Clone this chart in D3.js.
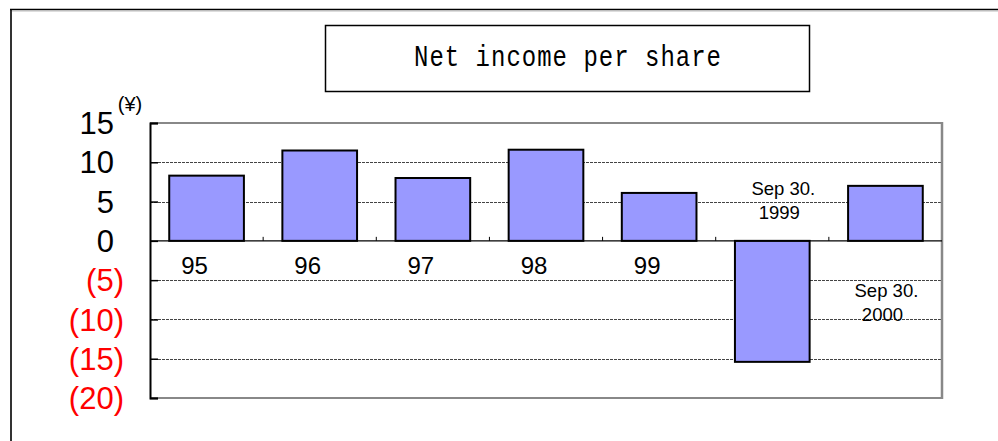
<!DOCTYPE html>
<html>
<head>
<meta charset="utf-8">
<script src="https://cdn.jsdelivr.net/npm/d3@7"></script>
<style>
  body { margin: 0; background: #fff; }
  svg { display: block; }
</style>
</head>
<body>
<div class="viz"></div>
<script>
'use strict';

// data
var categories = ['95', '96', '97', '98', '99', 'sep99', 'sep00'];
var values = [8.3, 11.5, 8.0, 11.6, 6.1, -15.4, 7.0];
var catLabels = ['95', '96', '97', '98', '99'];
var yTicks = [15, 10, 5, 0, -5, -10, -15, -20];
var title = 'Net income per share';

var width = 998, height = 441;
var plot = {left: 150, top: 123, right: 942, bottom: 398};

var svg = d3.select('.viz').append('svg')
  .attr('width', width)
  .attr('height', height);

// outer frame
svg.append('line').attr('x1', 11).attr('y1', 10).attr('x2', 11).attr('y2', height)
  .attr('stroke', '#333').attr('stroke-width', 2);
svg.append('line').attr('x1', 10).attr('y1', 9.5).attr('x2', width).attr('y2', 9.5)
  .attr('stroke', '#000').attr('stroke-width', 1.5);
svg.append('line').attr('x1', 12).attr('y1', 11).attr('x2', width).attr('y2', 11)
  .attr('stroke', '#bbb').attr('stroke-width', 1);

// title box
svg.append('rect').attr('x', 325.5).attr('y', 25.5).attr('width', 484).attr('height', 66)
  .attr('fill', '#fff').attr('stroke', '#000').attr('stroke-width', 1.5);
svg.append('text')
  .attr('x', 568).attr('y', 58)
  .attr('text-anchor', 'middle')
  .attr('dominant-baseline', 'central')
  .attr('font-family', 'Liberation Mono, DejaVu Sans Mono, monospace')
  .attr('font-size', 24)
  .attr('letter-spacing', 1)
  .attr('transform', 'translate(568,58) scale(1,1.2) translate(-568,-58)')
  .text(title);

var x = d3.scaleBand()
  .domain(categories)
  .range([plot.left, plot.right])
  .paddingInner(0.34)
  .paddingOuter(0.17);

var y = d3.scaleLinear()
  .domain([-20, 15])
  .range([plot.bottom, plot.top]);

// gridlines
svg.append('g').attr('class', 'grid').selectAll('line')
  .data(yTicks.filter(function (d) { return d !== 0 && d !== 15 && d !== -20; }))
  .enter()
  .append('line')
  .attr('x1', plot.left).attr('x2', plot.right)
  .attr('y1', function (d) { return Math.round(y(d)) + 0.5; })
  .attr('y2', function (d) { return Math.round(y(d)) + 0.5; })
  .attr('stroke', '#444')
  .attr('stroke-width', 1)
  .attr('stroke-dasharray', '3,1');

// plot area border (grey top, right, bottom)
svg.append('line').attr('x1', plot.left).attr('y1', plot.top).attr('x2', plot.right).attr('y2', plot.top)
  .attr('stroke', '#888').attr('stroke-width', 2);
svg.append('line').attr('x1', plot.right).attr('y1', plot.top - 1).attr('x2', plot.right).attr('y2', plot.bottom + 1)
  .attr('stroke', '#888').attr('stroke-width', 2.5);
svg.append('line').attr('x1', plot.left).attr('y1', plot.bottom).attr('x2', plot.right).attr('y2', plot.bottom)
  .attr('stroke', '#888').attr('stroke-width', 2);

// bars
svg.append('g').attr('class', 'bars').selectAll('rect')
  .data(values)
  .enter()
  .append('rect')
  .attr('x', function (d, i) { return x(categories[i]); })
  .attr('y', function (d) { return y(Math.max(0, d)); })
  .attr('width', x.bandwidth())
  .attr('height', function (d) { return Math.abs(y(d) - y(0)); })
  .attr('fill', '#9999ff')
  .attr('stroke', '#000')
  .attr('stroke-width', 2);

// zero line and category ticks
svg.append('line').attr('x1', plot.left).attr('x2', plot.right)
  .attr('y1', y(0)).attr('y2', y(0))
  .attr('stroke', '#000').attr('stroke-width', 1.2);
var step = x.step();
svg.append('g').selectAll('line')
  .data(categories.slice(1))
  .enter()
  .append('line')
  .attr('x1', function (d) { return x(d) - x.paddingInner() * step / 2; })
  .attr('x2', function (d) { return x(d) - x.paddingInner() * step / 2; })
  .attr('y1', y(0) - 4).attr('y2', y(0))
  .attr('stroke', '#000').attr('stroke-width', 1);

// left axis
var yAxis = d3.axisLeft(y).tickValues(yTicks).tickSize(-8).tickFormat('');
var ax = svg.append('g').attr('transform', 'translate(' + plot.left + ',0)').call(yAxis);
ax.select('.domain').attr('stroke', '#000').attr('stroke-width', 2);
ax.selectAll('.tick line').attr('stroke', '#000').attr('stroke-width', 1.5);

svg.append('g').attr('class', 'ylabels').selectAll('text')
  .data(yTicks)
  .enter()
  .append('text')
  .attr('x', function (d) { return d < 0 ? 124 : 114; })
  .attr('y', function (d) { return y(d); })
  .attr('dy', '0.36em')
  .attr('text-anchor', 'end')
  .attr('font-family', 'Liberation Sans, Arial, sans-serif')
  .attr('font-size', 31)
  .attr('fill', function (d) { return d < 0 ? '#ff0000' : '#000'; })
  .text(function (d) { return d < 0 ? '(' + (-d) + ')' : d; });

svg.append('text')
  .attr('x', 130).attr('y', 104)
  .attr('dy', '0.36em')
  .attr('text-anchor', 'middle')
  .attr('font-family', 'Liberation Sans, Arial, sans-serif')
  .attr('font-size', 20)
  .text('(\u00a5)');

// category labels
svg.append('g').attr('class', 'xlabels').selectAll('text')
  .data(catLabels)
  .enter()
  .append('text')
  .attr('x', function (d) { return x(d) + x.bandwidth() / 2 - 12; })
  .attr('y', 265)
  .attr('dy', '0.36em')
  .attr('text-anchor', 'middle')
  .attr('font-family', 'Liberation Sans, Arial, sans-serif')
  .attr('font-size', 24)
  .text(function (d) { return d; });

// date labels for the half-year bars
var dateLabels = [
  {cat: 'sep99', lines: ['Sep 30.', '1999'], y: 188, dx: 11},
  {cat: 'sep00', lines: ['Sep 30.', '2000'], y: 290, dx: 1}
];
dateLabels.forEach(function (k) {
  var cx = x(k.cat) + x.bandwidth() / 2 + k.dx;
  var t = svg.append('text')
    .attr('font-family', 'Liberation Sans, Arial, sans-serif')
    .attr('font-size', 18.5)
    .attr('text-anchor', 'middle');
  k.lines.forEach(function (s, i) {
    t.append('tspan')
      .attr('x', cx - i * 4)
      .attr('y', k.y + i * 24)
      .attr('dy', '0.36em')
      .text(s);
  });
});
</script>
</body>
</html>
